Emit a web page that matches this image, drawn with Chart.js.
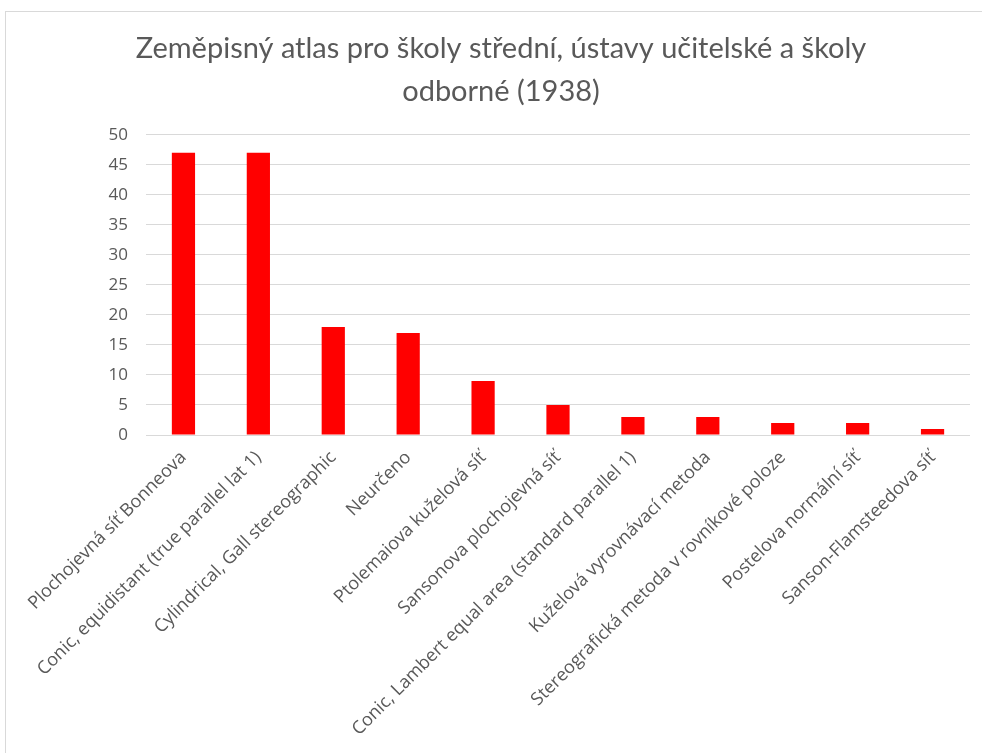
<!DOCTYPE html>
<html lang="cs">
  <head>
    <meta charset="UTF-8" />
    <title>Zeměpisný atlas (1938)</title>
    <script src="https://cdn.jsdelivr.net/npm/chart.js"></script>
    <style>
      body {
        margin: 0;
        background: #ffffff;
        overflow: hidden;
      }
      .frame {
        position: absolute;
        left: 5px;
        top: 11px;
        width: 1000px;
        height: 800px;
        border: 1px solid #d9d9d9;
      }
      .chart-box {
        position: absolute;
        left: 0;
        top: 0;
        width: 982px;
        height: 753px;
      }
    </style>
  </head>
  <body>
    <div class="frame"></div>
    <div class="chart-box">
      <canvas id="atlasChart"></canvas>
    </div>

    <script>
      const categories = [
        "Plochojevná síť Bonneova",
        "Conic, equidistant (true parallel lat 1)",
        "Cylindrical, Gall stereographic",
        "Neurčeno",
        "Ptolemaiova kuželová síť",
        "Sansonova plochojevná síť",
        "Conic, Lambert equal area (standard parallel 1)",
        "Kuželová vyrovnávací metoda",
        "Stereografická metoda v rovníkové poloze",
        "Postelova normální síť",
        "Sanson-Flamsteedova síť",
      ];
      const counts = [47, 47, 18, 17, 9, 5, 3, 3, 2, 2, 1];
      const titleLines = [
        "Zeměpisný atlas pro školy střední, ústavy učitelské a školy",
        "odborné (1938)",
      ];

      const textColor = "#595959";
      const titleFont = "Lato, 'Liberation Sans', sans-serif";
      const labelFont = "'Open Sans', 'DejaVu Sans', sans-serif";

      new Chart(document.getElementById("atlasChart").getContext("2d"), {
        type: "bar",
        data: {
          labels: categories,
          datasets: [
            {
              data: counts,
              backgroundColor: "#ff0000",
              barPercentage: 0.31,
              categoryPercentage: 1,
            },
          ],
        },
        options: {
          responsive: true,
          maintainAspectRatio: false,
          animation: false,
          layout: {
            padding: { left: 32, right: 12, top: 0, bottom: 0 },
          },
          plugins: {
            legend: { display: false },
            tooltip: { enabled: false },
            title: {
              display: true,
              text: titleLines,
              color: textColor,
              font: { family: titleFont, size: 29, weight: "normal", lineHeight: 1.48 },
              padding: { top: 27, bottom: 22 },
            },
          },
          scales: {
            x: {
              grid: { display: false, drawTicks: false },
              border: { display: false },
              ticks: {
                color: textColor,
                font: { family: labelFont, size: 18 },
                maxRotation: 45,
                minRotation: 45,
                autoSkip: false,
                padding: 12,
              },
              afterFit: (scale) => {
                scale.height = 318;
              },
            },
            y: {
              min: 0,
              max: 50,
              grid: { color: "#d9d9d9", lineWidth: 1, drawTicks: false },
              border: { display: false },
              ticks: {
                stepSize: 5,
                color: textColor,
                font: { family: labelFont, size: 17 },
                padding: 18,
              },
              afterFit: (scale) => {
                scale.width = 114;
              },
            },
          },
        },
      });
    </script>
  </body>
</html>
